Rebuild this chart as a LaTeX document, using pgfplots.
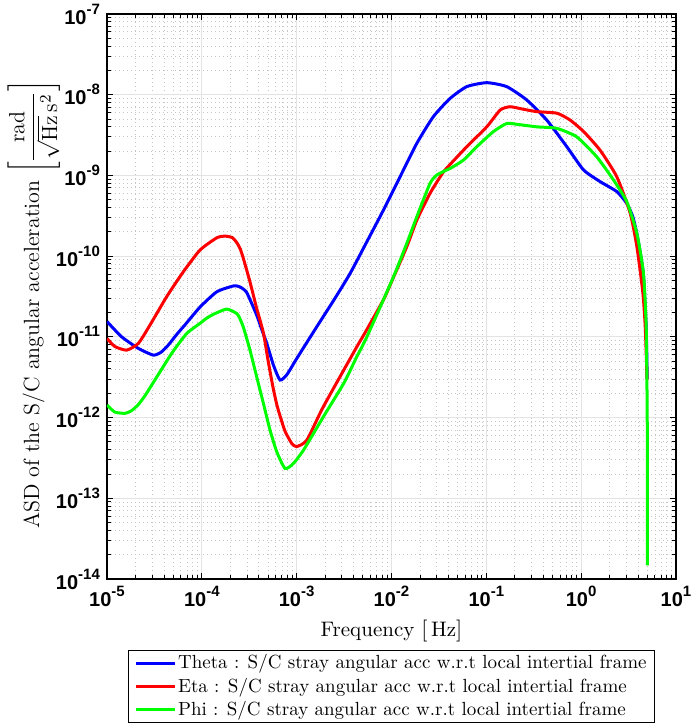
\documentclass[border=0pt]{standalone}
\usepackage{amsmath}
\usepackage{fontspec}
\usepackage{pgfplots}
\pgfplotsset{compat=1.18}
\newfontfamily\helv{Liberation Sans}
% exponent of the tick labels
\newcommand{\ex}[1]{\raisebox{0.5em}{\fontsize{7.5}{8}\selectfont #1}}

\begin{document}
\begin{tikzpicture}
\begin{axis}[
    name=ax,
    scale only axis,
    width=284.5pt, height=282.5pt,
    xmode=log, ymode=log,
    xmin=1e-5, xmax=10, ymin=1e-14, ymax=1e-7,
    xtick={1e-5,1e-4,1e-3,1e-2,1e-1,1,10},
    xticklabels={10\ex{-5},10\ex{-4},10\ex{-3},10\ex{-2},10\ex{-1},10\ex{0},10\ex{1}},
    ytick={1e-14,1e-13,1e-12,1e-11,1e-10,1e-9,1e-8,1e-7},
    yticklabels={10\ex{-14},10\ex{-13},10\ex{-12},10\ex{-11},10\ex{-10},10\ex{-9},10\ex{-8},10\ex{-7}},
    tick label style={font=\helv\bfseries\fontsize{10}{12}\selectfont},
    grid=both,
    major grid style={gray!22, line width=0.5pt},
    minor grid style={gray!45, line width=0.45pt, dash pattern=on 0.5pt off 1.5pt},
    axis line style={line width=0.75pt},
    every tick/.style={black, line width=0.5pt},
    major tick length=3pt, minor tick length=1.8pt,
    xlabel={Frequency $\left[\,\mathrm{Hz}\right]$},
    ylabel={ASD of the S/C angular acceleration $\left[\dfrac{\mathrm{rad}}{\sqrt{\mathrm{Hz}}\,\mathrm{s}^2}\right]$},
    xlabel style={font=\fontsize{10.5}{12}\selectfont},
    ylabel style={font=\fontsize{11}{13}\selectfont,
        at={([xshift=-50pt]rel axis cs:0,0.486)}, anchor=north, inner sep=0pt},
    legend style={at={(0.5,-0.126)}, anchor=north, draw=black, line width=0.5pt,
        font=\fontsize{9.5}{11.5}\selectfont, row sep=1pt,
        inner xsep=3pt, inner ysep=1pt,
        nodes={inner sep=1pt, text depth=0.15em}},
    legend cell align=left,
    legend image code/.code={\draw[#1] (0cm,0cm) -- (0.68cm,0cm);},
]

% Theta
\addplot[blue, line width=1.5pt, smooth, tension=0.35] coordinates {
(1e-5,1.55e-11) (1.43e-5,1.0e-11) (2.14e-5,7.2e-12) (3.08e-5,5.94e-12) (3.72e-5,6.46e-12)
(4.44e-5,7.94e-12) (5.43e-5,1.07e-11) (6.65e-5,1.41e-11) (9.57e-5,2.34e-11) (1.44e-4,3.62e-11)
(2.15e-4,4.27e-11) (2.51e-4,4.17e-11) (2.97e-4,3.55e-11) (3.79e-4,1.86e-11) (4.29e-4,1.23e-11)
(4.84e-4,8.3e-12) (5.69e-4,4.47e-12) (6.68e-4,2.92e-12) (7.87e-4,3.39e-12) (1e-3,5.37e-12)
(1.58e-3,1.26e-11) (2.51e-3,2.95e-11) (3.66e-3,6.1e-11) (5.5e-3,1.51e-10) (8.2e-3,3.7e-10)
(1.23e-2,9.6e-10) (1.85e-2,2.5e-9) (2.77e-2,5.37e-9) (4.15e-2,9.0e-9) (6.22e-2,1.26e-8)
(0.101,1.41e-8) (0.164,1.26e-8) (0.267,8.6e-9) (0.434,4.85e-9) (0.706,2.27e-9)
(1.06,1.17e-9) (1.58,8.4e-10) (2.38,6.3e-10) (3.03,4.5e-10) (3.5,3.1e-10)
(3.87,1.9e-10) (4.2,1.1e-10) (4.54,5.8e-11) (4.85,1.3e-11) (4.97,3.0e-12)
};
\addlegendentry{Theta : S/C stray angular acc w.r.t local intertial frame}

% Eta
\addplot[red, line width=1.5pt, smooth, tension=0.35] coordinates {
(1e-5,9.55e-12) (1.21e-5,7.6e-12) (1.61e-5,6.85e-12) (2.14e-5,8.3e-12) (2.84e-5,1.4e-11)
(4.27e-5,3.16e-11) (6.38e-5,6.4e-11) (9.57e-5,1.19e-10) (1.44e-4,1.69e-10) (1.76e-4,1.77e-10)
(2.09e-4,1.70e-10) (2.33e-4,1.48e-10) (2.54e-4,1.23e-10) (2.74e-4,9.4e-11) (3.22e-4,4.8e-11)
(3.79e-4,2.25e-11) (4.46e-4,1.12e-11)
(5.01e-4,5.0e-12) (5.62e-4,2.4e-12) (6.17e-4,1.45e-12) (6.68e-4,1.05e-12) (7.55e-4,6.76e-13)
(8.87e-4,4.79e-13) (1e-3,4.37e-13) (1.28e-3,5.25e-13) (1.91e-3,1.36e-12) (4.3e-3,7.5e-12)
(5.05e-3,1.035e-11) (8.2e-3,2.86e-11) (1e-2,4.8e-11) (1.45e-2,1.31e-10) (1.85e-2,2.8e-10)
(2.55e-2,6.0e-10) (3.26e-2,9.6e-10) (3.67e-2,1.17e-9) (6.22e-2,2.27e-9) (0.101,4.0e-9)
(0.14,6.46e-9) (0.178,7.1e-9) (0.247,6.6e-9) (0.341,6.17e-9) (0.555,5.9e-9)
(0.766,4.85e-9) (1.06,3.5e-9) (1.58,2.06e-9) (2.38,9.6e-10) (3.29,3.4e-10)
(3.87,1.31e-10) (4.48,3.47e-11) (4.75,1.26e-11) (4.95,2.95e-12)
};
\addlegendentry{Eta : S/C stray angular acc w.r.t local intertial frame}

% Phi
\addplot[green, line width=1.5pt, smooth, tension=0.35] coordinates {
(1e-5,1.43e-12) (1.21e-5,1.17e-12) (1.55e-5,1.13e-12) (1.82e-5,1.22e-12) (2.14e-5,1.45e-12)
(2.51e-5,1.86e-12) (3.2e-5,2.92e-12)
(4.81e-5,6.24e-12) (6.92e-5,1.1e-11) (9.57e-5,1.47e-11) (1.12e-4,1.7e-11) (1.32e-4,1.9e-11)
(1.83e-4,2.21e-11) (2.33e-4,1.95e-11) (2.51e-4,1.7e-11) (2.74e-4,1.32e-11) (3.22e-4,6.86e-12)
(3.79e-4,3.2e-12)
(4.46e-4,1.5e-12) (5.24e-4,7.0e-13) (6.17e-4,3.77e-13) (7.55e-4,2.34e-13) (9.23e-4,2.7e-13)
(1.18e-3,3.95e-13) (1.91e-3,1.02e-12) (3.16e-3,2.7e-12) (4.3e-3,5.66e-12) (5.5e-3,1.0e-11)
(1.05e-2,5.56e-11) (1.45e-2,1.44e-10) (1.85e-2,3.08e-10) (2.55e-2,7.98e-10) (3.0e-2,1.01e-9)
(3.83e-2,1.17e-9) (4.15e-2,1.22e-9) (5.74e-2,1.55e-9) (7.94e-2,2.27e-9) (0.119,3.5e-9)
(0.164,4.4e-9) (0.21,4.3e-9) (0.341,4.0e-9) (0.555,3.83e-9) (0.9,3.0e-9)
(1.46,1.7e-9) (2.19,8.8e-10) (3.03,4.72e-10) (3.87,1.91e-10) (4.54,6.1e-11)
(4.85,1.33e-11) (4.97,1.15e-12) (4.99,1.6e-13) (5.0,1.48e-14)
};
\addlegendentry{Phi : S/C stray angular acc w.r.t local intertial frame}

\end{axis}
% frame the picture as the reference is framed
\pgfresetboundingbox
\path ([shift={(-53.5pt,-74.5pt)}]ax.south west) rectangle ([shift={(7.5pt,7pt)}]ax.north east);
\end{tikzpicture}
\end{document}
